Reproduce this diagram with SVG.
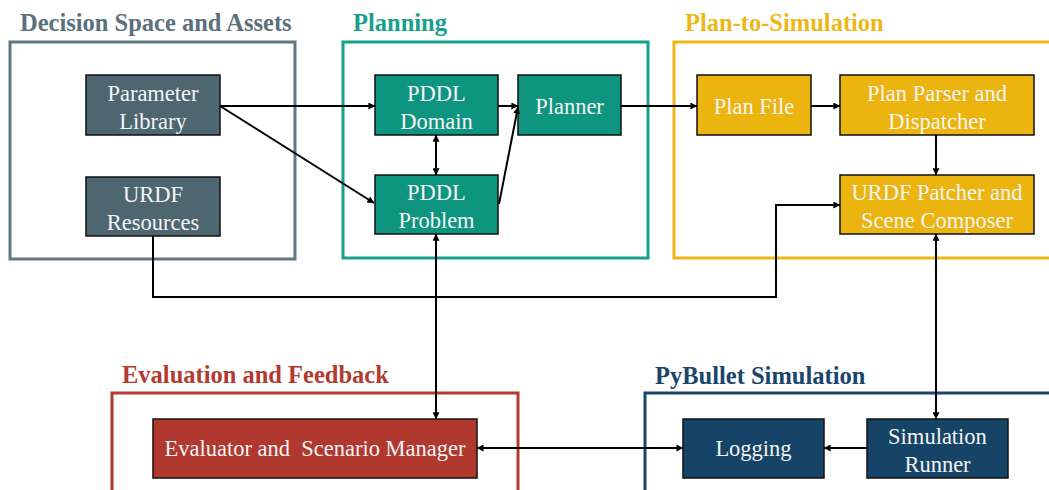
<svg xmlns="http://www.w3.org/2000/svg" width="1049" height="490" viewBox="0 0 1049 490">
  <style>
    .group { fill: none; stroke-width: 3; }
    .title { font-family: "Liberation Serif", "Times New Roman", serif; font-weight: bold; font-size: 24.5px; }
    .node rect { stroke: #111; stroke-width: 1.5; }
    .node text { font-family: "Liberation Serif", "Times New Roman", serif; font-size: 22.5px; fill: #f4f4f4; text-anchor: middle; }
    .conn path { fill: none; stroke: #000; stroke-width: 2; }
    .slate { stroke: #61777f; }
    .teal { stroke: #17a08c; }
    .gold { stroke: #edb718; }
    .red { stroke: #b23a30; }
    .navy { stroke: #1b466b; }
  </style>
  <defs>
    <marker id="arrow" viewBox="0 0 10 10" refX="9.5" refY="5" markerWidth="8" markerHeight="7" markerUnits="userSpaceOnUse" orient="auto-start-reverse">
      <path d="M0,0 L10,5 L0,10 Z" fill="#000"/>
    </marker>
  </defs>

  <rect width="1049" height="490" fill="#fff"/>

  <!-- group frames -->
  <g id="group-decision">
    <rect class="group slate" x="10" y="42" width="285" height="217"/>
    <text class="title" x="20" y="31" fill="#5a707b">Decision Space and Assets</text>
  </g>
  <g id="group-planning">
    <rect class="group teal" x="343" y="42" width="305" height="216"/>
    <text class="title" x="353" y="31" fill="#17a08c">Planning</text>
  </g>
  <g id="group-plan-to-sim">
    <rect class="group gold" x="674" y="42" width="390" height="216"/>
    <text class="title" x="685" y="31" fill="#edb718">Plan-to-Simulation</text>
  </g>
  <g id="group-evaluation">
    <rect class="group red" x="112" y="393" width="406" height="110"/>
    <text class="title" x="122" y="383" fill="#b23a30">Evaluation and Feedback</text>
  </g>
  <g id="group-pybullet">
    <rect class="group navy" x="645" y="393" width="420" height="110"/>
    <text class="title" x="655" y="384" fill="#1b466b">PyBullet Simulation</text>
  </g>

  <!-- nodes -->
  <g id="parameter-library" class="node">
    <rect x="86" y="75" width="134" height="60" fill="#4e6670"/>
    <text x="153" y="101">Parameter</text>
    <text x="153" y="129">Library</text>
  </g>
  <g id="urdf-resources" class="node">
    <rect x="86" y="177" width="134" height="59" fill="#4e6670"/>
    <text x="153" y="202">URDF</text>
    <text x="153" y="230">Resources</text>
  </g>
  <g id="pddl-domain" class="node">
    <rect x="375" y="75" width="123" height="60" fill="#0e957f"/>
    <text x="436.500" y="101">PDDL</text>
    <text x="436.500" y="129">Domain</text>
  </g>
  <g id="pddl-problem" class="node">
    <rect x="375" y="175" width="123" height="59" fill="#0e957f"/>
    <text x="436.500" y="200">PDDL</text>
    <text x="436.500" y="228">Problem</text>
  </g>
  <g id="planner" class="node">
    <rect x="518" y="75" width="103" height="60" fill="#0e957f"/>
    <text x="569.500" y="114">Planner</text>
  </g>
  <g id="plan-file" class="node">
    <rect x="697" y="75" width="114" height="60" fill="#ebb40f"/>
    <text x="754" y="114">Plan File</text>
  </g>
  <g id="plan-parser" class="node">
    <rect x="840" y="75" width="194" height="60" fill="#ebb40f"/>
    <text x="937" y="101">Plan Parser and</text>
    <text x="937" y="129">Dispatcher</text>
  </g>
  <g id="urdf-patcher" class="node">
    <rect x="840" y="175" width="194" height="59" fill="#ebb40f"/>
    <text x="937" y="200">URDF Patcher and</text>
    <text x="937" y="228">Scene Composer</text>
  </g>
  <g id="evaluator" class="node">
    <rect x="153" y="419" width="324" height="59" fill="#b0382e"/>
    <text x="315" y="456" xml:space="preserve">Evaluator and  Scenario Manager</text>
  </g>
  <g id="logging" class="node">
    <rect x="683" y="419" width="141" height="59" fill="#164466"/>
    <text x="753.500" y="456">Logging</text>
  </g>
  <g id="simulation-runner" class="node">
    <rect x="867" y="419" width="141" height="59" fill="#164466"/>
    <text x="937.500" y="444">Simulation</text>
    <text x="937.500" y="472">Runner</text>
  </g>

  <!-- connectors -->
  <g id="connectors" class="conn">
    <path d="M220,106 H375" marker-end="url(#arrow)"/>
    <path d="M220,106 L374,203" marker-end="url(#arrow)"/>
    <path d="M436,135 V175" marker-start="url(#arrow)" marker-end="url(#arrow)"/>
    <path d="M498,106 H518" marker-end="url(#arrow)"/>
    <path d="M499,204 L518,107" marker-end="url(#arrow)"/>
    <path d="M621,106 H697" marker-end="url(#arrow)"/>
    <path d="M811,106 H840" marker-end="url(#arrow)"/>
    <path d="M936,135 V175" marker-end="url(#arrow)"/>
    <path d="M153,236 V297 H776 V205 H840" marker-end="url(#arrow)"/>
    <path d="M436,234 V419" marker-start="url(#arrow)" marker-end="url(#arrow)"/>
    <path d="M936,234 V419" marker-start="url(#arrow)" marker-end="url(#arrow)"/>
    <path d="M867,448 H824" marker-end="url(#arrow)"/>
    <path d="M477,448 H683" marker-start="url(#arrow)" marker-end="url(#arrow)"/>
  </g>
</svg>
